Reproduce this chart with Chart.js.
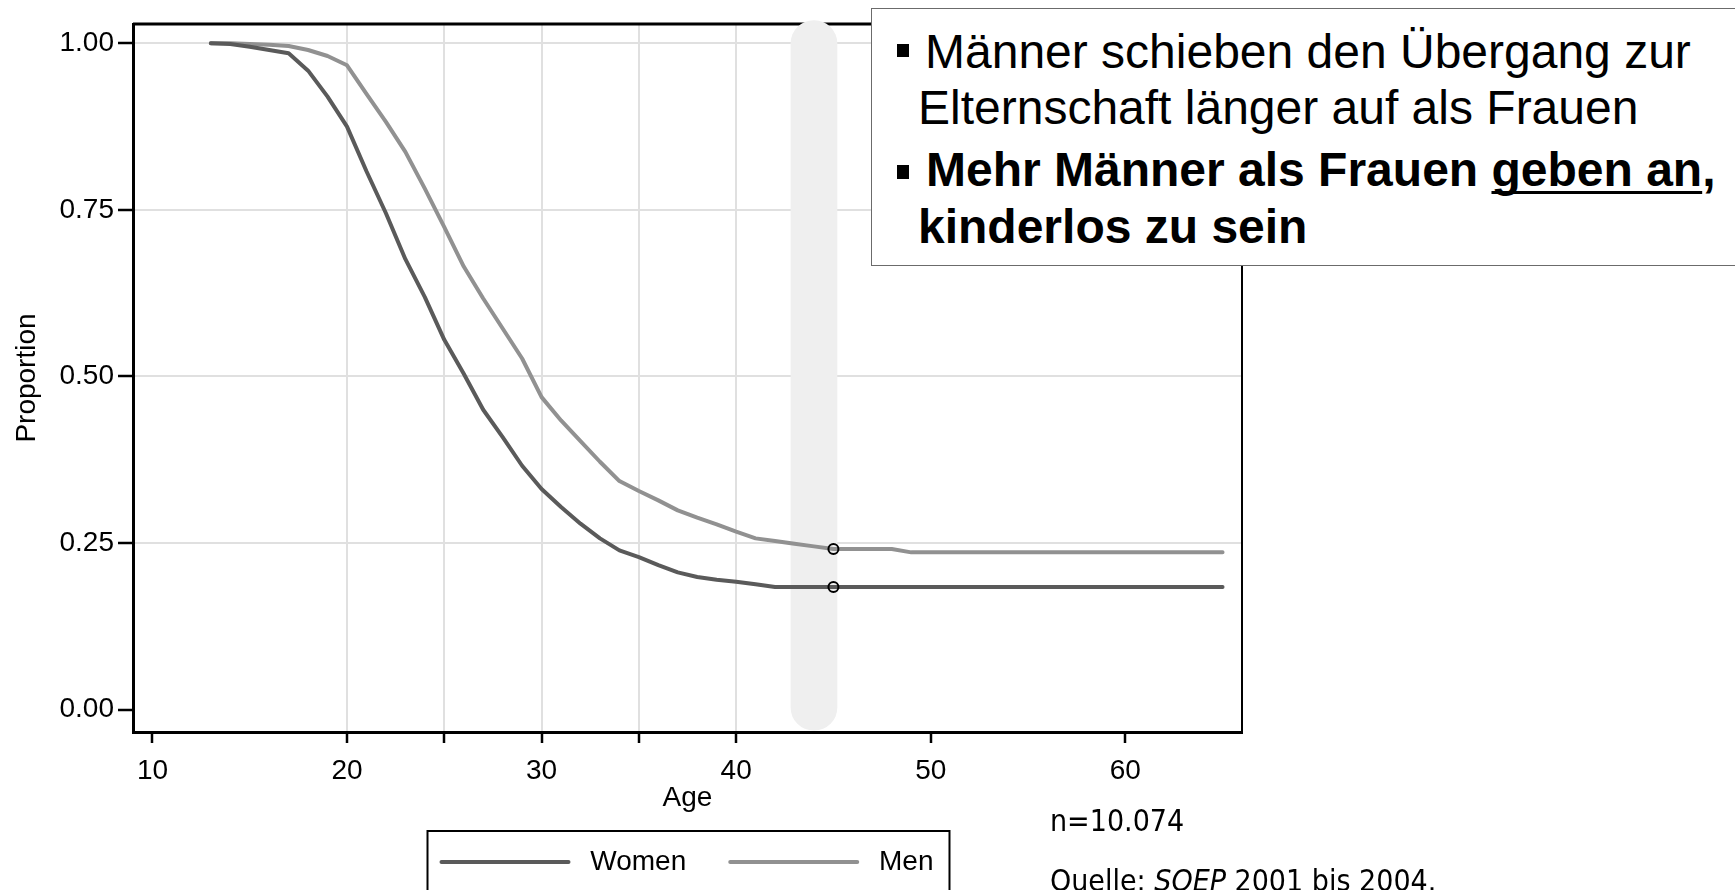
<!DOCTYPE html>
<html lang="de">
<head>
  <meta charset="UTF-8" />
  <title>Kinderlosigkeit nach Alter</title>
  <script src="https://cdn.jsdelivr.net/npm/chart.js"></script>
  <style>
    body { margin: 0; background: #fff; }
    #wrap { position: relative; width: 1735px; height: 890px; overflow: hidden; }
    #chart { position: absolute; left: 0; top: 0; }
    #note {
      position: absolute; left: 871px; top: 8px; width: 900px; height: 258px;
      box-sizing: border-box; border: 1.5px solid #6b6b6b; background: #fff;
      font-family: "Liberation Sans", Arial, sans-serif; font-size: 48px; line-height: 1; color: #000;
    }
    #note .l { position: absolute; white-space: nowrap; }
    #note .b { position: absolute; left: 25px; width: 12px; height: 13px; background: #000; }
    #note .bold { font-weight: bold; }
    #note u { text-decoration-thickness: 3px; text-underline-offset: 5px; text-decoration-skip-ink: none; }
    .src {
      position: absolute; left: 1050px; white-space: nowrap; color: #000;
      font-family: "DejaVu Sans Condensed", "DejaVu Sans", sans-serif; font-stretch: condensed;
      font-size: 30px; line-height: 1;
    }
  </style>
</head>
<body>
  <div id="wrap">
    <canvas id="chart" width="1735" height="890"></canvas>

    <div id="note">
      <div class="b" style="top: 35px;"></div>
      <div class="l" style="left: 53px; top: 19px;">Männer schieben den Übergang zur</div>
      <div class="l" style="left: 46px; top: 74.5px;">Elternschaft länger auf als Frauen</div>
      <div class="b" style="top: 156px; height: 14px;"></div>
      <div class="l bold" style="left: 54px; top: 137px;">Mehr Männer als Frauen <u>geben an</u>,</div>
      <div class="l bold" style="left: 46px; top: 194px;">kinderlos zu sein</div>
    </div>

    <div class="src" style="top: 806px;">n=10.074</div>
    <div class="src" style="top: 866px;">Quelle: <i>SOEP</i> 2001 bis 2004.</div>
  </div>

  <script>
    // Anteil kinderlos nach Alter
    const ages = [13, 14, 15, 16, 17, 18, 19, 20, 21, 22, 23, 24, 25, 26, 27, 28, 29, 30,
                  31, 32, 33, 34, 35, 36, 37, 38, 39, 40, 41, 42, 43, 44, 45, 46, 47, 48,
                  49, 50, 51, 52, 53, 54, 55, 56, 57, 58, 59, 60, 61, 62, 63, 64, 65];
    const women = [1.000, 0.999, 0.995, 0.990, 0.985, 0.959, 0.920, 0.875, 0.808, 0.745,
                   0.676, 0.619, 0.555, 0.504, 0.450, 0.409, 0.366, 0.331, 0.304, 0.279,
                   0.257, 0.239, 0.229, 0.217, 0.206, 0.199, 0.195, 0.192, 0.188, 0.184,
                   0.184, 0.184, 0.184, 0.184, 0.184, 0.184, 0.184, 0.184, 0.184, 0.184,
                   0.184, 0.184, 0.184, 0.184, 0.184, 0.184, 0.184, 0.184, 0.184, 0.184,
                   0.184, 0.184, 0.184];
    const men = [1.000, 1.000, 0.999, 0.998, 0.996, 0.990, 0.981, 0.967, 0.924, 0.882,
                 0.837, 0.782, 0.724, 0.665, 0.617, 0.572, 0.527, 0.469, 0.434, 0.403,
                 0.372, 0.343, 0.328, 0.314, 0.299, 0.288, 0.278, 0.267, 0.257, 0.253,
                 0.249, 0.245, 0.241, 0.241, 0.241, 0.241, 0.236, 0.236, 0.236, 0.236,
                 0.236, 0.236, 0.236, 0.236, 0.236, 0.236, 0.236, 0.236, 0.236, 0.236,
                 0.236, 0.236, 0.236];

    const xTicks = [10, 20, 25, 30, 35, 40, 50, 60];
    const xLabels = [10, 20, 30, 40, 50, 60];
    const xGrid = [20, 25, 30, 35, 40];
    const yTicks = [0, 0.25, 0.5, 0.75, 1];

    const markAge = 45;                 // kleine Kreise auf beiden Kurven
    const highlightAge = 44;            // grauer Balken
    const highlightRange = [-0.031, 1.034];

    const colWomen = "#5a5a5a";
    const colMen = "#919191";
    const gridGrey = "#e0e0e0";
    const none = "rgba(0,0,0,0)";

    Chart.defaults.font.family = "'Liberation Sans', Arial, sans-serif";
    Chart.defaults.font.size = 28;
    Chart.defaults.color = "#000";

    // Rahmen oben/rechts und Kasten um die Legende
    const frame = {
      id: "frame",
      beforeDatasetsDraw(chart) {
        const { ctx, chartArea: a } = chart;
        ctx.save();
        ctx.strokeStyle = "#000";
        ctx.lineWidth = 3;
        ctx.beginPath(); ctx.moveTo(a.left, a.top); ctx.lineTo(a.right, a.top); ctx.stroke();
        ctx.lineWidth = 2;
        ctx.beginPath(); ctx.moveTo(a.right, a.top); ctx.lineTo(a.right, a.bottom); ctx.stroke();
        ctx.restore();
      },
      afterDraw(chart) {
        const hb = chart.legend.legendHitBoxes;
        if (!hb || !hb.length) return;
        const left = Math.min(...hb.map(h => h.left)) - 14;
        const right = Math.max(...hb.map(h => h.left + h.width)) + 16;
        const top = hb[0].top - 17;
        const { ctx } = chart;
        ctx.save();
        ctx.strokeStyle = "#000";
        ctx.lineWidth = 2;
        ctx.strokeRect(left, top, right - left, 120);
        ctx.restore();
      }
    };

    const ctx = document.getElementById("chart").getContext("2d");
    new Chart(ctx, {
      type: "line",
      data: {
        datasets: [
          {
            label: "Women",
            data: ages.map((a, i) => ({ x: a, y: women[i] })),
            borderColor: colWomen,
            borderWidth: 4,
            borderCapStyle: "round",
            borderJoinStyle: "round",
            pointRadius: c => (c.raw && c.raw.x === markAge ? 5 : 0),
            pointBorderColor: "#000",
            pointBackgroundColor: none,
            pointBorderWidth: 2,
            tension: 0,
            order: 0
          },
          {
            label: "Men",
            data: ages.map((a, i) => ({ x: a, y: men[i] })),
            borderColor: colMen,
            borderWidth: 4,
            borderCapStyle: "round",
            borderJoinStyle: "round",
            pointRadius: c => (c.raw && c.raw.x === markAge ? 5 : 0),
            pointBorderColor: "#000",
            pointBackgroundColor: none,
            pointBorderWidth: 2,
            tension: 0,
            order: 1
          },
          {
            type: "bar",
            label: "highlight",
            data: [{ x: highlightAge, y: highlightRange }],
            backgroundColor: "#efefef",
            barThickness: 46,
            borderRadius: 23,
            borderSkipped: false,
            clip: false,
            order: 2
          }
        ]
      },
      options: {
        responsive: false,
        animation: false,
        events: [],
        layout: { padding: { left: 0, right: 493, top: 24, bottom: 4 } },
        scales: {
          x: {
            type: "linear",
            min: 9,
            max: 66,
            offset: false,
            afterBuildTicks: s => { s.ticks = xTicks.map(v => ({ value: v })); },
            afterFit: s => { s.height = 72; },
            ticks: {
              autoSkip: false,
              maxRotation: 0,
              padding: 11,
              callback: v => (xLabels.includes(v) ? String(v) : "")
            },
            grid: {
              offset: false,
              color: c => (c.tick && xGrid.includes(c.tick.value) ? gridGrey : none),
              lineWidth: 2,
              tickColor: "#000",
              tickLength: 11,
              tickWidth: 2.5
            },
            border: { color: "#000", width: 3 },
            title: { display: true, text: "Age", padding: { top: 0, bottom: -11 } }
          },
          y: {
            type: "linear",
            min: -0.0336,
            max: 1.029,
            afterBuildTicks: s => { s.ticks = yTicks.map(v => ({ value: v })); },
            afterFit: s => { s.width = 133; },
            ticks: {
              padding: 4,
              callback: v => v.toFixed(2)
            },
            grid: {
              offset: false,
              color: c => (c.tick && c.tick.value === 0 ? none : gridGrey),
              lineWidth: 2,
              tickColor: "#000",
              tickLength: 15,
              tickWidth: 2.5
            },
            border: { color: "#000", width: 3 },
            title: { display: true, text: "Proportion", padding: { top: 10, bottom: 0 } }
          }
        },
        plugins: {
          tooltip: { enabled: false },
          legend: {
            position: "bottom",
            fullSize: false,
            labels: {
              usePointStyle: true,
              pointStyle: "line",
              pointStyleWidth: 127,
              padding: 44,
              generateLabels: chart =>
                Chart.defaults.plugins.legend.labels.generateLabels(chart)
                  .filter(l => l.datasetIndex < 2)
                  .map(l => {
                    const ds = chart.data.datasets[l.datasetIndex];
                    return { ...l, text: " " + l.text, strokeStyle: ds.borderColor,
                             lineWidth: ds.borderWidth, lineCap: "round" };
                  })
            }
          }
        }
      },
      plugins: [frame]
    });
  </script>
</body>
</html>
